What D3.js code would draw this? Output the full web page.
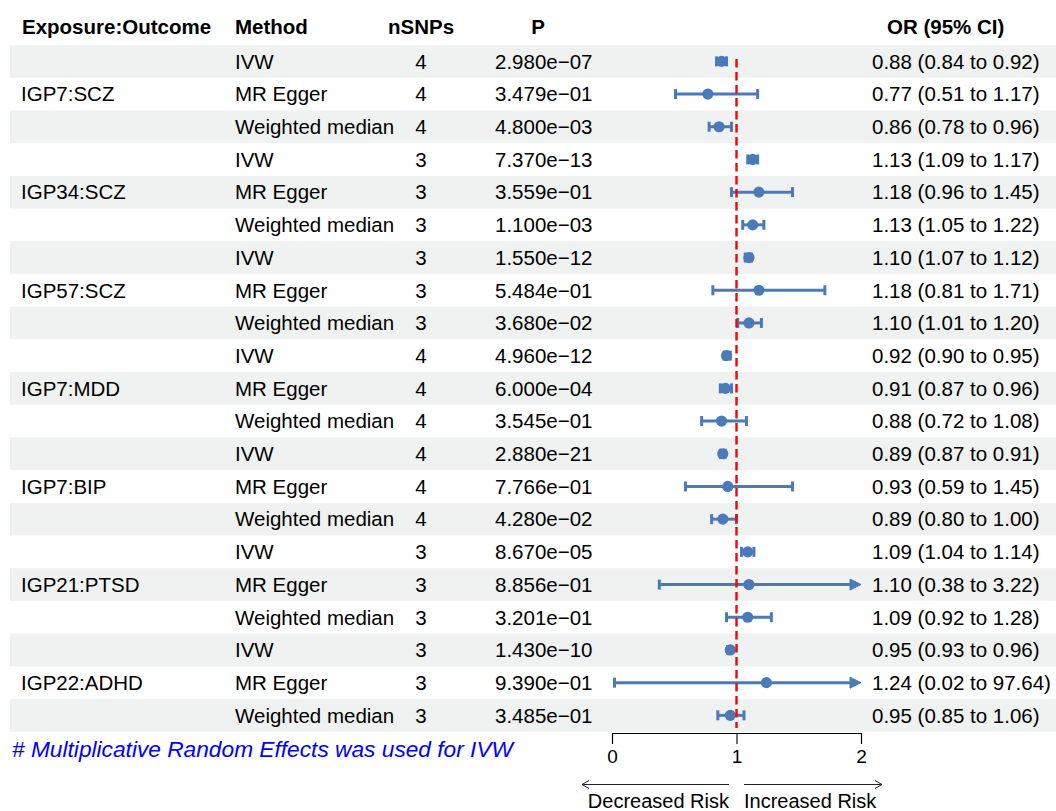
<!DOCTYPE html>
<html>
<head>
<meta charset="utf-8">
<script src="https://cdn.jsdelivr.net/npm/d3@7"></script>
<style>
  html, body { margin: 0; padding: 0; background: #ffffff; }
  svg { display: block; font-family: "Liberation Sans", Arial, Helvetica, sans-serif; }
</style>
</head>
<body>
<svg id="chart" width="1056" height="811"></svg>
<script>
// ---------------- data ----------------
const exposures = ["IGP7:SCZ", "IGP34:SCZ", "IGP57:SCZ", "IGP7:MDD", "IGP7:BIP", "IGP21:PTSD", "IGP22:ADHD"];
const methods = ["IVW", "MR Egger", "Weighted median"];
const nsnps = [4,4,4, 3,3,3, 3,3,3, 4,4,4, 4,4,4, 3,3,3, 3,3,3];
const pvals = ["2.980e\u221207","3.479e\u221201","4.800e\u221203",
               "7.370e\u221213","3.559e\u221201","1.100e\u221203",
               "1.550e\u221212","5.484e\u221201","3.680e\u221202",
               "4.960e\u221212","6.000e\u221204","3.545e\u221201",
               "2.880e\u221221","7.766e\u221201","4.280e\u221202",
               "8.670e\u221205","8.856e\u221201","3.201e\u221201",
               "1.430e\u221210","9.390e\u221201","3.485e\u221201"];
const orEst = [0.88,0.77,0.86, 1.13,1.18,1.13, 1.10,1.18,1.10, 0.92,0.91,0.88, 0.89,0.93,0.89, 1.09,1.10,1.09, 0.95,1.24,0.95];
const orLow = [0.84,0.51,0.78, 1.09,0.96,1.05, 1.07,0.81,1.01, 0.90,0.87,0.72, 0.87,0.59,0.80, 1.04,0.38,0.92, 0.93,0.02,0.85];
const orHigh = [0.92,1.17,0.96, 1.17,1.45,1.22, 1.12,1.71,1.20, 0.95,0.96,1.08, 0.91,1.45,1.00, 1.14,3.22,1.28, 0.96,97.64,1.06];
const headers = ["Exposure:Outcome", "Method", "nSNPs", "P", "OR (95% CI)"];
const xTicks = [0, 1, 2];
const footnote = "# Multiplicative Random Effects was used for IVW";
const arrowLabels = ["Decreased Risk", "Increased Risk"];

// ---------------- layout ----------------
const svg = d3.select("#chart");
const W = 1056;
const FS = 20.5;
const blue = "#4a7ab8";
const shade = "#eff2f0";

const rows = d3.range(orEst.length).map(i => ({
  i,
  exposure: (i % 3 === 1) ? exposures[Math.floor(i / 3)] : "",
  method: methods[i % 3],
  n: nsnps[i],
  p: pvals[i],
  est: orEst[i], lo: orLow[i], hi: orHigh[i]
}));

const y = d3.scaleBand().domain(rows.map(d => d.i)).range([45, 731.7]).paddingInner(0);
const yc = i => y(i) + y.bandwidth() / 2;
const x = d3.scaleLinear().domain([0, 2]).range([612, 861]);
const xmin = 0, xmax = 2;

// background bands
svg.append("g").selectAll("rect").data(rows.filter(d => d.i % 2 === 0)).join("rect")
  .attr("x", 10).attr("width", W - 10)
  .attr("y", d => y(d.i)).attr("height", y.bandwidth())
  .attr("fill", shade);

// headers
const hdr = svg.append("g").attr("font-weight", "bold").attr("font-size", FS).attr("fill", "#000");
const hy = 33.5;
hdr.append("text").attr("x", 22).attr("y", hy).text(headers[0]);
hdr.append("text").attr("x", 235).attr("y", hy).text(headers[1]);
hdr.append("text").attr("x", 421).attr("y", hy).attr("text-anchor", "middle").text(headers[2]);
hdr.append("text").attr("x", 538).attr("y", hy).attr("text-anchor", "middle").text(headers[3]);
hdr.append("text").attr("x", 887).attr("y", hy).text(headers[4]);

// table text
const tbl = svg.append("g").attr("font-size", FS).attr("fill", "#000");
const base = d => yc(d.i) + 7.3;
tbl.selectAll("text.exp").data(rows.filter(d => d.exposure)).join("text")
  .attr("class", "exp").attr("x", 21).attr("y", base).text(d => d.exposure);
tbl.selectAll("text.meth").data(rows).join("text")
  .attr("class", "meth").attr("x", 235).attr("y", base).text(d => d.method);
tbl.selectAll("text.n").data(rows).join("text")
  .attr("class", "n").attr("x", 421).attr("y", base).attr("text-anchor", "middle").text(d => d.n);
tbl.selectAll("text.p").data(rows).join("text")
  .attr("class", "p").attr("x", 495).attr("y", base).text(d => d.p);
tbl.selectAll("text.or").data(rows).join("text")
  .attr("class", "or").attr("x", 872).attr("y", base)
  .text(d => `${d.est.toFixed(2)} (${d.lo.toFixed(2)} to ${d.hi.toFixed(2)})`);

// CI lines
const ci = svg.append("g");
const capH = 5;
rows.forEach(d => {
  const g = ci.append("g");
  const cy = yc(d.i);
  const lo = Math.max(d.lo, xmin), hi = Math.min(d.hi, xmax);
  const loClip = d.lo < xmin, hiClip = d.hi > xmax;
  g.append("line").attr("x1", x(lo)).attr("x2", hiClip ? x(hi) - 6 : x(hi))
    .attr("y1", cy).attr("y2", cy)
    .attr("stroke", blue).attr("stroke-width", 3);
  if (!loClip) {
    g.append("line").attr("x1", x(lo)).attr("x2", x(lo)).attr("y1", cy - capH).attr("y2", cy + capH)
      .attr("stroke", blue).attr("stroke-width", 3);
  }
  if (!hiClip) {
    g.append("line").attr("x1", x(hi)).attr("x2", x(hi)).attr("y1", cy - capH).attr("y2", cy + capH)
      .attr("stroke", blue).attr("stroke-width", 3);
  } else {
    const tx = x(hi);
    g.append("path").attr("d", `M${tx},${cy} L${tx - 11},${cy - 5.5} L${tx - 11},${cy + 5.5} Z`)
      .attr("fill", blue).attr("stroke", blue).attr("stroke-width", 1).attr("stroke-linejoin", "round");
  }
  g.append("circle").attr("cx", x(d.est)).attr("cy", cy).attr("r", 5.6).attr("fill", blue);
});

// reference line at 1
svg.append("line")
  .attr("x1", x(1)).attr("x2", x(1))
  .attr("y1", 59).attr("y2", 728)
  .attr("stroke", "#ff0000").attr("stroke-width", 2.4)
  .attr("stroke-dasharray", "8.5,4.5");

// x axis
const axis = d3.axisBottom(x).tickValues(xTicks).tickSize(11).tickPadding(5.5).tickFormat(d3.format("d"));
const ax = svg.append("g").attr("transform", "translate(0,733)").call(axis);
ax.select(".domain").attr("stroke", "#000").attr("stroke-width", 1.1);
ax.selectAll(".tick line").attr("stroke", "#000").attr("stroke-width", 1.1);
ax.selectAll(".tick text").attr("font-size", 19).attr("font-family", "Liberation Sans, Arial, sans-serif").attr("fill", "#000");

// arrows
const ay = 784.5;
const arr = svg.append("g").attr("stroke", "#222").attr("stroke-width", 1).attr("fill", "none");
arr.append("path").attr("d", `M729,${ay} L582,${ay} M589,${ay - 4} L582,${ay} L589,${ay + 4}`);
arr.append("path").attr("d", `M744,${ay} L882,${ay} M875,${ay - 4} L882,${ay} L875,${ay + 4}`);
const at = svg.append("g").attr("font-size", 20).attr("fill", "#000");
at.append("text").attr("x", 729).attr("y", 808).attr("text-anchor", "end").text(arrowLabels[0]);
at.append("text").attr("x", 744).attr("y", 808).text(arrowLabels[1]);

// footnote
svg.append("text").attr("x", 12).attr("y", 756.5)
  .attr("font-size", 21.5).attr("font-style", "italic").attr("fill", "#0000ff")
  .attr("textLength", 501).attr("lengthAdjust", "spacingAndGlyphs")
  .text(footnote);
</script>
</body>
</html>
